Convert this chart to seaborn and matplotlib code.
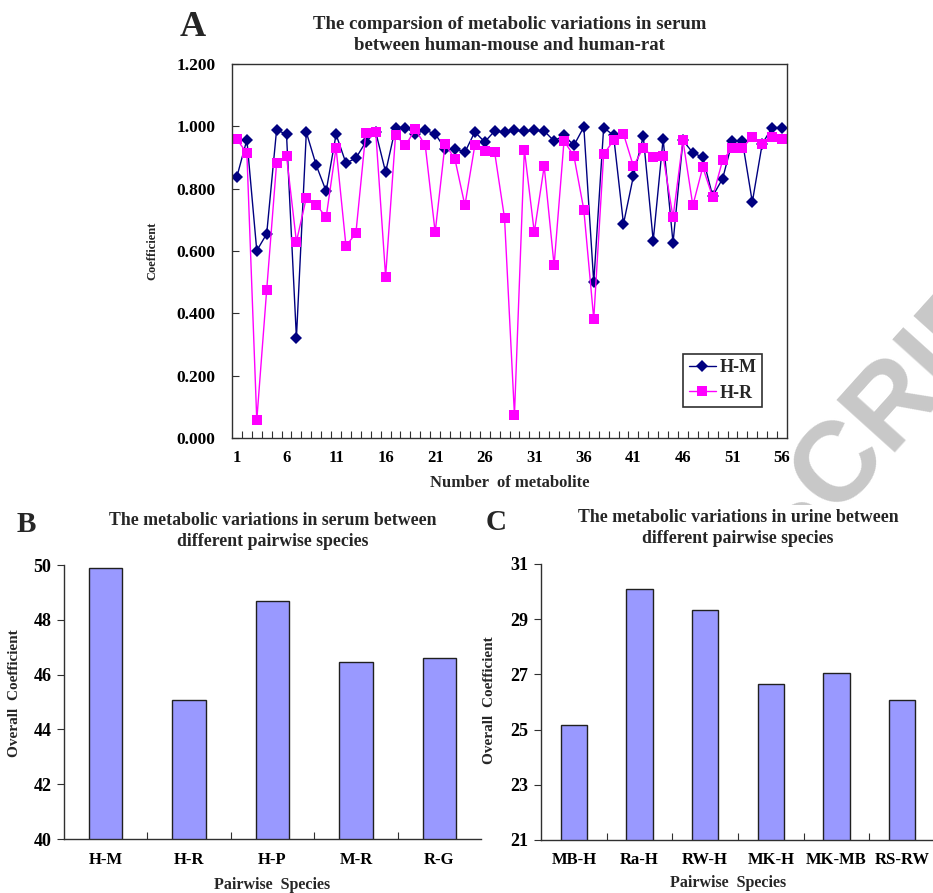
import matplotlib
matplotlib.use('Agg')
import matplotlib.pyplot as plt
import seaborn as sns
import pandas as pd
import numpy as np
from matplotlib.ticker import FixedLocator, FormatStrFormatter
from matplotlib.transforms import Bbox

# ---- data ----
metabolite_no = list(range(1, 57))
hm_coef = [0.839, 0.957, 0.601, 0.655, 0.989, 0.974, 0.321, 0.981, 0.875, 0.792,
           0.974, 0.882, 0.898, 0.950, 0.982, 0.853, 0.996, 0.996, 0.977, 0.987,
           0.976, 0.928, 0.928, 0.917, 0.982, 0.950, 0.985, 0.981, 0.987, 0.984,
           0.987, 0.985, 0.953, 0.971, 0.939, 0.998, 0.499, 0.996, 0.971, 0.687,
           0.840, 0.968, 0.633, 0.960, 0.626, 0.955, 0.915, 0.901, 0.776, 0.832,
           0.953, 0.953, 0.757, 0.944, 0.996, 0.996]
hr_coef = [0.958, 0.914, 0.057, 0.475, 0.882, 0.905, 0.630, 0.771, 0.749, 0.708,
           0.931, 0.616, 0.657, 0.979, 0.983, 0.518, 0.971, 0.939, 0.990, 0.939,
           0.660, 0.944, 0.894, 0.746, 0.939, 0.922, 0.917, 0.705, 0.074, 0.925,
           0.660, 0.872, 0.554, 0.953, 0.905, 0.732, 0.382, 0.910, 0.955, 0.976,
           0.872, 0.931, 0.901, 0.905, 0.708, 0.955, 0.746, 0.869, 0.773, 0.891,
           0.931, 0.931, 0.966, 0.942, 0.966, 0.958]

serum_pairs = ['H-M', 'H-R', 'H-P', 'M-R', 'R-G']
serum_coef = [49.90, 45.06, 48.69, 46.47, 46.62]

urine_pairs = ['MB-H', 'Ra-H', 'RW-H', 'MK-H', 'MK-MB', 'RS-RW']
urine_coef = [25.15, 30.10, 29.32, 26.67, 27.05, 26.08]

# ---- style ----
sns.set_style("white")
plt.rcParams['font.family'] = ['Liberation Serif', 'DejaVu Serif']
plt.rcParams['font.weight'] = 'bold'
plt.rcParams['axes.labelweight'] = 'bold'
plt.rcParams['axes.titleweight'] = 'bold'
plt.rcParams['axes.edgecolor'] = '#303030'
plt.rcParams['axes.linewidth'] = 1.0
plt.rcParams['xtick.color'] = '#303030'
plt.rcParams['ytick.color'] = '#303030'
plt.rcParams['xtick.labelcolor'] = 'black'
plt.rcParams['ytick.labelcolor'] = 'black'

W, H = 933, 893
fig = plt.figure(figsize=(W / 100, H / 100), dpi=100)
fig.patch.set_facecolor('white')


def px_axes(left, top, right, bottom):
    return fig.add_axes([left / W, 1 - bottom / H, (right - left) / W, (bottom - top) / H])


# ---- panel A: line chart ----
axA = px_axes(232, 64, 787, 438)
axA.set_facecolor('white')
sns.lineplot(x=metabolite_no, y=hm_coef, ax=axA, color='#000080', marker='D',
             markersize=6, markeredgewidth=0, linewidth=1.0, label='H-M')
sns.lineplot(x=metabolite_no, y=hr_coef, ax=axA, color='#FF00FF', marker='s',
             markersize=7.5, markeredgewidth=0, linewidth=1.0, label='H-R')
axA.set_xlim(0.5, 56.5)
axA.set_ylim(0, 1.2)
axA.set_xticks(metabolite_no[::5])
axA.xaxis.set_minor_locator(FixedLocator(np.arange(1.5, 56.5, 1)))
axA.tick_params(axis='x', which='major', length=0, pad=9, labelsize=12)
axA.tick_params(axis='x', which='minor', direction='in', length=5, width=0.8, bottom=True)
axA.set_yticks(np.arange(0, 1.21, 0.2))
axA.yaxis.set_major_formatter(FormatStrFormatter('%.3f'))
axA.tick_params(axis='y', direction='in', length=5, width=0.8, pad=12, labelsize=12.5, left=True)
for s in axA.spines.values():
    s.set_visible(True)
axA.set_xlabel('Number  of metabolite', fontsize=12, labelpad=6)
axA.set_ylabel('Coefficient', fontsize=9, labelpad=13)
axA.set_title('The comparsion of metabolic variations in serum\nbetween human-mouse and human-rat',
              fontsize=13.5, linespacing=1.35, pad=10)
leg = axA.legend(loc='lower right', bbox_to_anchor=(0.955, 0.083), frameon=True,
                 fancybox=False, edgecolor='#303030', framealpha=1,
                 prop={'weight': 'bold', 'size': 13}, handlelength=1.5,
                 handletextpad=0.2, borderpad=0.3, labelspacing=0.45, borderaxespad=0)
leg.get_frame().set_linewidth(1.2)

# ---- panel B: serum bars ----
axB = px_axes(64, 565, 481, 839)
axB.set_facecolor('white')
sns.barplot(x=serum_pairs, y=serum_coef, ax=axB, color='#9999FF', saturation=1,
            width=0.4, edgecolor='#202020', linewidth=1.0)
axB.set_ylim(40, 50)
axB.set_xlim(-0.5, 4.5)
axB.set_yticks(range(40, 51, 2))
axB.xaxis.set_minor_locator(FixedLocator(np.arange(0.5, 4.0, 1)))
axB.tick_params(axis='x', which='major', length=0, pad=9, labelsize=12)
axB.tick_params(axis='x', which='minor', direction='in', length=5, width=0.8, bottom=True)
axB.tick_params(axis='y', direction='out', length=5, width=0.8, pad=4, labelsize=13, left=True)
sns.despine(ax=axB)
axB.set_xlabel('Pairwise  Species', fontsize=11.5)
axB.set_ylabel('Overall  Coefficient', fontsize=11)
axB.xaxis.set_label_coords(0.5, -0.137)
axB.yaxis.set_label_coords(-0.103, 0.533)
axB.set_title('The metabolic variations in serum between\ndifferent pairwise species',
              fontsize=12.8, linespacing=1.3, pad=14)

# ---- panel C: urine bars ----
axC = px_axes(541, 564, 935, 840)
axC.set_facecolor('white')
sns.barplot(x=urine_pairs, y=urine_coef, ax=axC, color='#9999FF', saturation=1,
            width=0.4, edgecolor='#202020', linewidth=1.0)
axC.set_ylim(21, 31)
axC.set_xlim(-0.5, 5.5)
axC.set_yticks(range(21, 32, 2))
axC.xaxis.set_minor_locator(FixedLocator(np.arange(0.5, 5.0, 1)))
axC.tick_params(axis='x', which='major', length=0, pad=9, labelsize=12)
axC.tick_params(axis='x', which='minor', direction='in', length=5, width=0.8, bottom=True)
axC.tick_params(axis='y', direction='out', length=5, width=0.8, pad=4, labelsize=13, left=True)
sns.despine(ax=axC)
axC.set_xlabel('Pairwise  Species', fontsize=11.5)
axC.set_ylabel('Overall  Coefficient', fontsize=11)
axC.xaxis.set_label_coords(0.475, -0.127)
axC.yaxis.set_label_coords(-0.114, 0.507)
axC.set_title('The metabolic variations in urine between\ndifferent pairwise species',
              fontsize=12.8, linespacing=1.3, pad=15)

# panel letters
fig.text(180 / W, 1 - 36 / H, 'A', fontsize=26, fontweight='bold', va='baseline')
fig.text(17 / W, 1 - 532 / H, 'B', fontsize=21, fontweight='bold', va='baseline')
fig.text(486 / W, 1 - 530 / H, 'C', fontsize=21, fontweight='bold', va='baseline')

# ---- watermark (only the part right of panel A shows) ----
renderer = fig.canvas.get_renderer()
wm_text = 'ACCEPTED MANUSCRIPT'
wm_size = 82
wm_angle = 48
em_px = wm_size * 100 / 72


def ink_width(s):
    t = fig.text(0, 0, s, fontsize=wm_size, fontweight='bold', family='Liberation Sans')
    w = t.get_window_extent(renderer).width
    t.remove()
    return w


w_to_s = ink_width('ACCEPTED MANUS')
w_to_c = ink_width('ACCEPTED MANUSC')
c_mid = (w_to_s + 0.09 * em_px + w_to_c) / 2
ang = np.deg2rad(wm_angle)
u = np.array([np.cos(ang), np.sin(ang)])
v = np.array([-np.sin(ang), np.cos(ang)])
c_center = np.array([836, H - 457])
start = c_center - c_mid * u - 0.36 * em_px * v
wm = fig.text(start[0] / W, start[1] / H, wm_text, fontsize=wm_size, fontweight='bold',
              family='Liberation Sans', color='#c8c8c8', rotation=wm_angle,
              rotation_mode='anchor', ha='left', va='baseline', zorder=-10)
wm.set_clip_on(True)
wm.set_clip_box(Bbox.from_extents(790, H - 505, W, H))

fig.savefig('out.png', dpi=100)
